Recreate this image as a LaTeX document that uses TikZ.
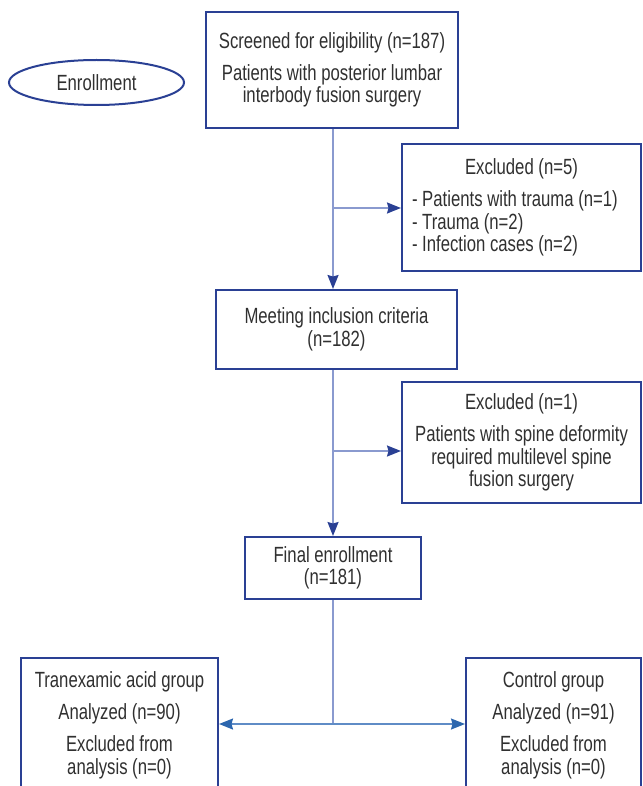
\documentclass[tikz,border=0pt]{standalone}
\usepackage{fontspec}
\setmainfont{Liberation Sans}[FakeStretch=0.76]
\usetikzlibrary{shapes.geometric,arrows.meta}
\definecolor{boxblue}{HTML}{2A4094}
\definecolor{linelav}{HTML}{8A9ACF}
\definecolor{linesteel}{HTML}{5F8CC6}
\definecolor{headsteel}{HTML}{2C66AE}
\definecolor{txt}{HTML}{303030}
\begin{document}
\begin{tikzpicture}[x=1pt,y=-1pt,
  font=\fontsize{22}{22.5}\selectfont,
  box/.style={draw=boxblue, line width=2pt, inner sep=0pt, align=flush center, text=txt},
  conn/.style={draw=linelav, line width=1.6pt, -{Stealth[length=14pt,width=11pt,inset=1.5pt,color=boxblue]}},
  plainconn/.style={draw=linelav, line width=1.6pt},
  splitarrow/.style={draw=linesteel, line width=1.6pt, -{Stealth[length=14pt,width=11pt,inset=1.5pt,color=headsteel]}}]
\useasboundingbox (0,0) rectangle (642,786);
\clip (0,0) rectangle (642,786);

\node[draw=boxblue, line width=2pt, ellipse, minimum width=175pt, minimum height=45pt, inner sep=0pt, text=txt] (enroll) at (96.5,82.5) {Enrollment};

\node[box, minimum width=252pt, minimum height=116pt, text width=245pt] (screen) at (332,70)
  {Screened for eligibility (n=187)\\[9.5pt]Patients with posterior lumbar\\interbody fusion surgery};

\node[box, minimum width=239pt, minimum height=127pt, text width=219pt, align=none] (ex1) at (521.5,207.5)
  {\centering Excluded (n=5)\par\vspace{9.5pt}\raggedright - Patients with trauma (n=1)\\- Trauma (n=2)\\- Infection cases (n=2)\par};

\node[box, minimum width=241pt, minimum height=79pt, text width=230pt] (meet) at (336.5,329.5)
  {Meeting inclusion criteria\\(n=182)};

\node[box, minimum width=239pt, minimum height=121pt, text width=230pt] (ex2) at (521.5,442.5)
  {Excluded (n=1)\\[9.5pt]Patients with spine deformity\\required multilevel spine\\fusion surgery};

\node[box, minimum width=176pt, minimum height=62pt, text width=170pt] (final) at (333,568)
  {Final enrollment\\(n=181)};

\node[box, minimum width=197pt, minimum height=134pt, text width=190pt] (txa) at (119.5,725)
  {Tranexamic acid group\\[9.5pt]Analyzed (n=90)\\[10pt]Excluded from\\analysis (n=0)};

\node[box, minimum width=175pt, minimum height=134pt, text width=170pt] (ctrl) at (553.5,725)
  {Control group\\[9.5pt]Analyzed (n=91)\\[10pt]Excluded from\\analysis (n=0)};

\coordinate (b1) at (333,208);
\coordinate (b2) at (333,451);
\coordinate (split) at (333,724);

\draw[conn] (screen.south -| b1) -- (b1 |- meet.north);
\draw[conn] (b1) -- (b1 -| ex1.west);
\draw[conn] (meet.south -| b2) -- (b2 |- final.north);
\draw[conn] (b2) -- (b2 -| ex2.west);
\draw[plainconn] (final.south -| split) -- (split);
\draw[splitarrow] (split) -- (split -| txa.east);
\draw[splitarrow] (split) -- (split -| ctrl.west);
\end{tikzpicture}
\end{document}
